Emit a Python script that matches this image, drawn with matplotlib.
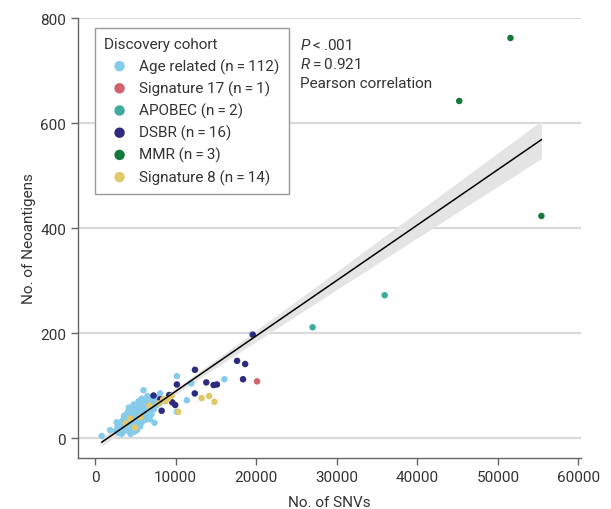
import numpy as np
import matplotlib.pyplot as plt

plt.rcParams['font.family'] = ['Roboto', 'DejaVu Sans']
plt.rcParams['mathtext.fontset'] = 'custom'
plt.rcParams['mathtext.rm'] = 'Roboto'
plt.rcParams['mathtext.it'] = 'Roboto:italic'

# Age related (light blue) - cluster plus a few scattered ones
age_x = [830, 1870, 6010, 8080, 6930, 7380, 10160, 11400, 16060, 11940, 10160,
         2600, 2800, 2900, 3000, 3100, 3200, 3300, 3400, 3500, 3500, 3600, 3700, 3700,
         3800, 3900, 3900, 4000, 4000, 4100, 4100, 4200, 4200, 4300, 4300, 4400, 4400,
         4500, 4500, 4600, 4600, 4700, 4700, 4800, 4800, 4900, 4900, 5000, 5000, 5100,
         5100, 5200, 5200, 5300, 5300, 5400, 5400, 5500, 5500, 5600, 5600, 5700, 5700,
         5800, 5800, 5900, 5900, 6000, 6000, 6100, 6100, 6200, 6200, 6300, 6300, 6400,
         6400, 6500, 6600, 6600, 6700, 6800, 6900, 7000, 7000, 7200, 7300, 7500, 7600,
         7800, 8000, 8200, 4000, 4600, 5200, 3600, 4200, 4800, 5400, 5000, 4400, 3300,
         2700, 5800, 6500, 4900, 5600, 6800, 3150, 4350, 5250, 6150]
age_y = [4, 15, 91, 85, 77, 29, 118, 72, 112, 104, 50,
         14, 22, 10, 18, 28, 15, 24, 33, 12, 20, 30, 38, 25,
         17, 33, 45, 28, 38, 22, 50, 35, 43, 30, 14, 40, 52,
         26, 46, 36, 55, 42, 30, 48, 20, 38, 56, 44, 30, 52,
         60, 38, 47, 55, 25, 42, 62, 50, 35, 58, 45, 65, 40,
         52, 30, 60, 47, 68, 55, 42, 62, 50, 72, 58, 35, 65,
         48, 55, 70, 42, 62, 52, 75, 60, 45, 68, 55, 72, 62,
         78, 66, 70, 15, 20, 15, 42, 58, 64, 70, 22, 8, 8,
         30, 75, 80, 12, 22, 36, 20, 24, 32, 38]

sig17_x = [20110]
sig17_y = [108]

apobec_x = [27000, 35950]
apobec_y = [211, 272]

dsbr_x = [19570, 17630, 18630, 18370, 12400, 10160, 13810, 14720, 15130, 12380,
          9950, 9580, 8270, 7260, 9200, 8100]
dsbr_y = [197, 147, 141, 112, 130, 102, 106, 101, 102, 85,
          63, 68, 52, 81, 82, 74]

mmr_x = [45200, 51560, 55400]
mmr_y = [642, 762, 423]

sig8_x = [13220, 14160, 14820, 10340, 8750, 9020, 8460, 4980, 4350, 6750, 7900,
          5600, 9500, 3800]
sig8_y = [76, 80, 69, 50, 70, 74, 74, 20, 37, 62, 66, 40, 80, 28]

x_ticks = [0, 10000, 20000, 30000, 40000, 50000, 60000]
y_ticks = [0, 200, 400, 600, 800]

groups = [
    ('Age related (n\u2009=\u2009112)', age_x, age_y, '#86cbea'),
    ('Signature 17 (n\u2009=\u20091)', sig17_x, sig17_y, '#d2626f'),
    ('APOBEC (n\u2009=\u20092)', apobec_x, apobec_y, '#3fab9b'),
    ('DSBR (n\u2009=\u200916)', dsbr_x, dsbr_y, '#2d2a80'),
    ('MMR (n\u2009=\u20093)', mmr_x, mmr_y, '#137a3c'),
    ('Signature 8 (n\u2009=\u200914)', sig8_x, sig8_y, '#e0c86c'),
]

fig = plt.figure(figsize=(6.11, 5.10), dpi=100)
ax = fig.add_axes([0.1277, 0.1, 0.823, 0.8627])

for lab, xs, ys, col in groups:
    ax.scatter(xs, ys, s=22, color=col, edgecolors='none', label=lab, zorder=3)

# linear fit with 95% CI over all samples
all_x = np.concatenate([np.array(g[1], float) for g in groups])
all_y = np.concatenate([np.array(g[2], float) for g in groups])
n = len(all_x)
slope, inter = np.polyfit(all_x, all_y, 1)
resid = all_y - (slope * all_x + inter)
s = np.sqrt(np.sum(resid ** 2) / (n - 2))
xbar = all_x.mean()
sxx = np.sum((all_x - xbar) ** 2)
xx = np.linspace(all_x.min(), all_x.max(), 200)
yy = slope * xx + inter
se = s * np.sqrt(1 / n + (xx - xbar) ** 2 / sxx)
ax.fill_between(xx, yy - 1.976 * se, yy + 1.976 * se, color='#e4e4e4', lw=0, zorder=2)
ax.plot(xx, yy, color='black', lw=1.1, zorder=4)

ax.set_xlim(-2110, 60300)
ax.set_ylim(-38, 800)
ax.set_xticks(x_ticks)
ax.set_xticklabels([str(t) for t in x_ticks])
ax.set_yticks(y_ticks)
ax.yaxis.grid(True, color='#dadada', lw=1.6)
ax.set_axisbelow(True)
for sp in ['top', 'right']:
    ax.spines[sp].set_visible(False)
for sp in ['left', 'bottom']:
    ax.spines[sp].set_color('#666666')
    ax.spines[sp].set_linewidth(1)
ax.tick_params(direction='out', length=5, width=1, color='#666666',
               labelsize=11, labelcolor='#333333')
ax.set_xlabel('No. of SNVs', fontsize=11, color='#333333', labelpad=8)
ax.set_ylabel('No. of Neoantigens', fontsize=11, color='#333333', labelpad=3)

leg = ax.legend(loc='upper left', bbox_to_anchor=(0.034, 0.977), borderaxespad=0,
                title='Discovery cohort', fontsize=11, title_fontsize=11,
                fancybox=False, edgecolor='#999999', framealpha=1,
                handletextpad=0.3, labelspacing=0.45, markerscale=1.6,
                alignment='left', borderpad=0.6)
leg.get_frame().set_linewidth(1)
for t in leg.get_texts():
    t.set_color('#333333')
leg.get_title().set_color('#333333')

tx = 0.441
ax.text(tx, 0.957, r'$P$' + '\u2009<\u2009.001', transform=ax.transAxes, fontsize=11,
        color='#333333', va='top')
ax.text(tx, 0.913, r'$R$' + '\u2009=\u20090.921', transform=ax.transAxes, fontsize=11,
        color='#333333', va='top')
ax.text(tx, 0.869, 'Pearson correlation', transform=ax.transAxes, fontsize=11,
        color='#333333', va='top')

fig.savefig('out.png', dpi=100)
